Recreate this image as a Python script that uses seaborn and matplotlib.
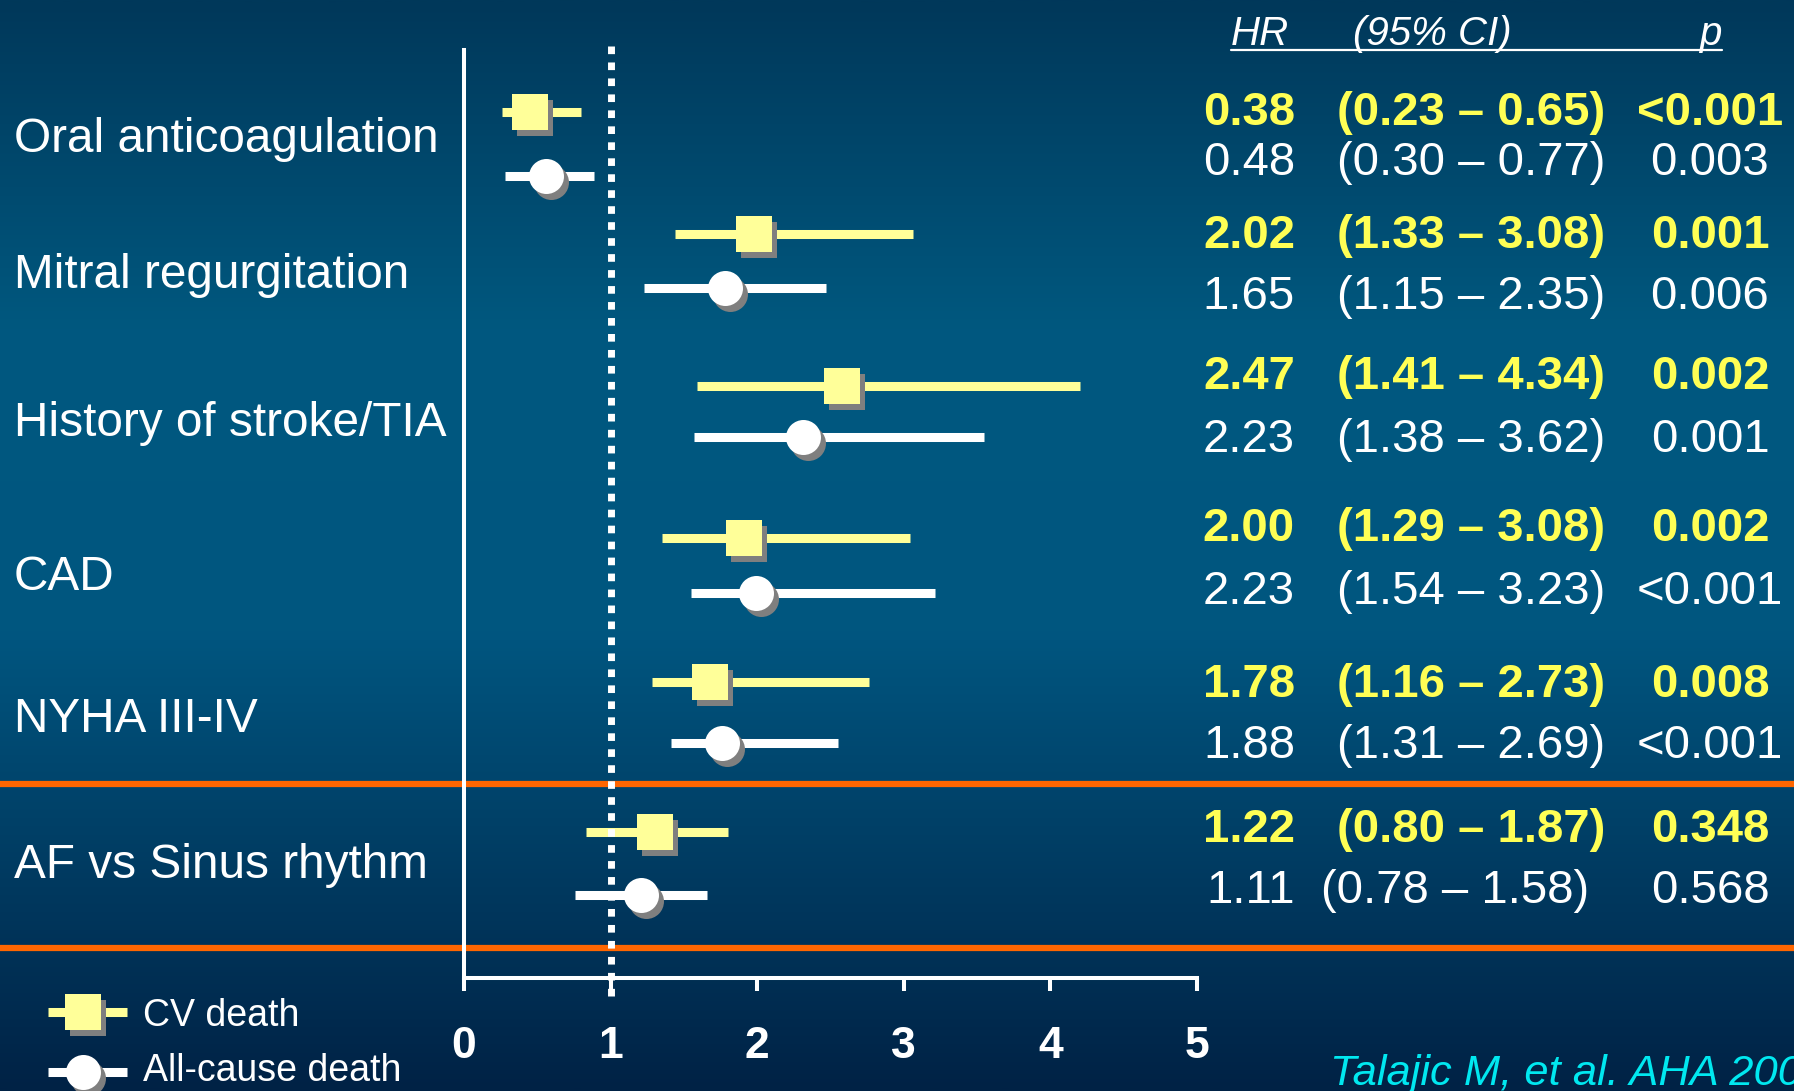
import numpy as np
import pandas as pd
import matplotlib
matplotlib.use("Agg")
import matplotlib.pyplot as plt
import matplotlib.transforms as mtransforms
from matplotlib.colors import LinearSegmentedColormap
import seaborn as sns

# ---------------- data ----------------
categories = ["Oral anticoagulation", "Mitral regurgitation", "History of stroke/TIA",
              "CAD", "NYHA III-IV", "AF vs Sinus rhythm"]

# marker positions / bar extents as drawn in the chart
cv_hr = [0.45, 1.98, 2.58, 1.91, 1.68, 1.30]
cv_lo = [0.26, 1.44, 1.59, 1.35, 1.28, 0.83]
cv_hi = [0.80, 3.06, 4.20, 3.04, 2.76, 1.80]
all_hr = [0.56, 1.78, 2.31, 1.99, 1.76, 1.21]
all_lo = [0.28, 1.23, 1.57, 1.55, 1.41, 0.76]
all_hi = [0.89, 2.47, 3.55, 3.21, 2.55, 1.66]

# table text
cv_hr_txt = ["0.38", "2.02", "2.47", "2.00", "1.78", "1.22"]
cv_ci_txt = ["(0.23 – 0.65)", "(1.33 – 3.08)", "(1.41 – 4.34)", "(1.29 – 3.08)",
             "(1.16 – 2.73)", "(0.80 – 1.87)"]
cv_p_txt = ["<0.001", "0.001", "0.002", "0.002", "0.008", "0.348"]
all_hr_txt = ["0.48", "1.65", "2.23", "2.23", "1.88", "1.11"]
all_ci_txt = ["(0.30 – 0.77)", "(1.15 – 2.35)", "(1.38 – 3.62)", "(1.54 – 3.23)",
              "(1.31 – 2.69)", "(0.78 – 1.58)"]
all_p_txt = ["0.003", "0.006", "0.001", "<0.001", "<0.001", "0.568"]

x_ticks = [0, 1, 2, 3, 4, 5]
series_names = ["CV death", "All-cause death"]
header = ["HR", "(95% CI)", "p"]
citation = "Talajic M, et al. AHA 2008"

# ---------------- layout (pixel rows) ----------------
W, H = 1794, 1091
cv_y = [112, 234, 386, 538, 682, 832]
all_y = [176, 288, 437, 593, 743, 895]
cv_txt_y = [113, 236, 377, 529, 685, 830]
all_txt_y = [163, 297, 440, 592, 746, 891]
cat_y = [140, 275, 423, 577, 719, 866]

YELLOW_MARK = "#ffff99"
YELLOW_TXT = "#ffff55"
SHADOW = "#7f7f7f"
ORANGE = "#ff6600"

sns.set_theme(style="white")
plt.rcParams["font.family"] = ["Liberation Sans", "DejaVu Sans"]

fig = plt.figure(figsize=(W / 100, H / 100), dpi=100)

# background gradient axes (pixel coordinates)
bg = fig.add_axes([0, 0, 1, 1])
cmap = LinearSegmentedColormap.from_list(
    "bg", [(0.0, "#00385a"), (0.30, "#00587f"), (0.58, "#005680"), (1.0, "#002245")])
grad = np.linspace(0, 1, 512).reshape(-1, 1)
bg.imshow(grad, cmap=cmap, extent=[0, W, H, 0], aspect="auto", zorder=0)
bg.set_xlim(0, W)
bg.set_ylim(H, 0)
bg.axis("off")

# orange separator lines
for yy in [784, 948]:
    bg.plot([0, W], [yy, yy], color=ORANGE, lw=4.5, solid_capstyle="butt", zorder=2)

# category labels
for lab, yy in zip(categories, cat_y):
    bg.text(14, yy, lab, color="white", fontsize=34.4, ha="left", va="center", zorder=3)

# header
hdr_y = 34
bg.text(1231, hdr_y, header[0], color="white", fontsize=29, style="italic", ha="left", va="center")
bg.text(1353, hdr_y, header[1], color="white", fontsize=29, style="italic", ha="left", va="center")
bg.text(1722, hdr_y, header[2], color="white", fontsize=29, style="italic", ha="right", va="center")
bg.plot([1231, 1722], [50, 50], color="white", lw=1.6, zorder=3)

# table
for i in range(len(categories)):
    bg.text(1295, cv_txt_y[i], cv_hr_txt[i], color=YELLOW_TXT, fontsize=34, fontweight="bold",
            ha="right", va="center")
    bg.text(1471, cv_txt_y[i], cv_ci_txt[i], color=YELLOW_TXT, fontsize=34, fontweight="bold",
            ha="center", va="center")
    bg.text(1710, cv_txt_y[i], cv_p_txt[i], color=YELLOW_TXT, fontsize=34, fontweight="bold",
            ha="center", va="center")
    ci_x = 1455 if i == len(categories) - 1 else 1471
    bg.text(1295, all_txt_y[i], all_hr_txt[i], color="white", fontsize=34,
            ha="right", va="center")
    bg.text(ci_x, all_txt_y[i], all_ci_txt[i], color="white", fontsize=34,
            ha="center", va="center")
    bg.text(1710, all_txt_y[i], all_p_txt[i], color="white", fontsize=34,
            ha="center", va="center")

# citation (runs off the right edge, as in the original slide)
bg.text(1330, 1074, citation, color="#00e8f0", fontsize=31.3, style="italic",
        ha="left", va="center")

# legend (drawn manually)
shadow_bg = mtransforms.offset_copy(bg.transData, fig=fig, x=5, y=-6, units="dots")
leg_y = [1012, 1072]
bg.plot([48, 127], [leg_y[0]] * 2, color=YELLOW_MARK, lw=6.5, solid_capstyle="butt", zorder=4)
bg.plot([48, 127], [leg_y[1]] * 2, color="white", lw=6.5, solid_capstyle="butt", zorder=4)
bg.scatter([83], [leg_y[0]], marker="s", s=671, color=SHADOW, linewidths=0, zorder=5, transform=shadow_bg)
bg.scatter([83], [leg_y[1]], marker="o", s=635, color=SHADOW, linewidths=0, zorder=5, transform=shadow_bg)
bg.scatter([83], [leg_y[0]], marker="s", s=671, color=YELLOW_MARK, linewidths=0, zorder=6)
bg.scatter([83], [leg_y[1]], marker="o", s=635, color="white", linewidths=0, zorder=6)
bg.text(143, 1016, series_names[0], color="white", fontsize=27, ha="left", va="center")
bg.text(143, 1071, series_names[1], color="white", fontsize=27, ha="left", va="center")

# ---------------- forest axes ----------------
x0, x5 = 464, 1197
ax = fig.add_axes([x0 / W, 0, (x5 - x0) / W, 1])
ax.set_facecolor("none")
ax.patch.set_alpha(0)

cv_df = pd.DataFrame({"hr": cv_hr, "lo": cv_lo, "hi": cv_hi, "y": cv_y})
all_df = pd.DataFrame({"hr": all_hr, "lo": all_lo, "hi": all_hi, "y": all_y})

ax.hlines(cv_df["y"], cv_df["lo"], cv_df["hi"], color=YELLOW_MARK, lw=6.5, zorder=2)
ax.hlines(all_df["y"], all_df["lo"], all_df["hi"], color="white", lw=6.5, zorder=2)

# reference line at HR = 1
ax.vlines(1, 46, 998, color="white", lw=5.0, linestyles=(0, (1.1, 1.2)), zorder=3)

shadow_tr = mtransforms.offset_copy(ax.transData, fig=fig, x=5, y=-6, units="dots")
sns.scatterplot(data=cv_df, x="hr", y="y", ax=ax, marker="s", s=671, color=SHADOW,
                linewidth=0, transform=shadow_tr, zorder=4, legend=False)
sns.scatterplot(data=all_df, x="hr", y="y", ax=ax, marker="o", s=635, color=SHADOW,
                linewidth=0, transform=shadow_tr, zorder=4, legend=False)
sns.scatterplot(data=cv_df, x="hr", y="y", ax=ax, marker="s", s=671, color=YELLOW_MARK,
                linewidth=0, zorder=5, legend=False)
sns.scatterplot(data=all_df, x="hr", y="y", ax=ax, marker="o", s=635, color="white",
                linewidth=0, zorder=5, legend=False)

ax.set_xlim(0, 5)
ax.set_ylim(H, 0)
ax.set_xlabel("")
ax.set_ylabel("")
for s in ["top", "right"]:
    ax.spines[s].set_visible(False)
ax.spines["bottom"].set_position(("data", 978))
ax.spines["bottom"].set_bounds(0, 5)
ax.spines["left"].set_position(("data", 0))
ax.spines["left"].set_bounds(50, 978)
for s in ["bottom", "left"]:
    ax.spines[s].set_color("white")
    ax.spines[s].set_linewidth(2.9)
    ax.spines[s].set_zorder(3)
ax.set_yticks([])
ax.set_xticks(x_ticks, labels=[str(t) for t in x_ticks], fontweight="bold")
ax.tick_params(axis="x", direction="out", length=9.5, width=2.9, colors="white",
               labelsize=32, pad=25, bottom=True)
ax.grid(False)

fig.savefig("out.png", dpi=100)
